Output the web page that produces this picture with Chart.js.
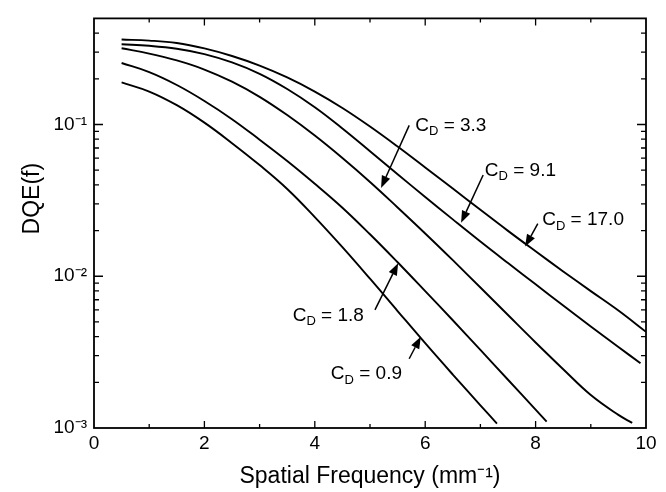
<!DOCTYPE html>
<html lang="en">
<head>
    <meta charset="UTF-8">
    <title>DQE(f) vs Spatial Frequency</title>
    <script src="https://cdn.jsdelivr.net/npm/chart.js"></script>
    <style>
        html, body { margin: 0; padding: 0; background: #fff; }
        canvas { display: block; }
    </style>
</head>
<body>
    <canvas id="grafico" width="666" height="492"></canvas>

    <script>
        // --- data ---
        const fA = [0.5, 1, 1.5, 2, 2.5, 3, 3.5, 4, 4.5, 5, 5.5, 6, 6.5, 7, 7.5, 8, 8.5, 9, 9.5, 10];
        const dqeA = [0.363, 0.357, 0.344, 0.317, 0.2825, 0.2443, 0.2042, 0.1648, 0.1285, 0.097, 0.0716, 0.0521, 0.0378, 0.0274, 0.0199, 0.0146, 0.01076, 0.00798, 0.00594, 0.0043]; // CD = 17.0

        const fB = [0.5, 1, 1.5, 2, 2.5, 3, 3.5, 4, 4.5, 5, 5.5, 6, 6.5, 7, 7.5, 8, 8.5, 9, 9.5, 9.9];
        const dqeB = [0.338, 0.330, 0.3155, 0.291, 0.2564, 0.2158, 0.1714, 0.130, 0.0942, 0.0667, 0.047, 0.0333, 0.0237, 0.01694, 0.01222, 0.00885, 0.00641, 0.00467, 0.00342, 0.00267]; // CD = 9.1

        const fC = [0.5, 1, 1.5, 2, 2.5, 3, 3.5, 4, 4.5, 5, 5.5, 6, 6.5, 7, 7.5, 8, 8.5, 9, 9.5, 9.75];
        const dqeC = [0.3177, 0.2931, 0.2642, 0.2301, 0.1914, 0.1521, 0.1153, 0.0845, 0.0601, 0.0418, 0.0284, 0.01914, 0.01276, 0.00843, 0.00555, 0.00366, 0.00244, 0.00165, 0.00122, 0.00108]; // CD = 3.3

        const fD = [0.5, 1, 1.5, 2, 2.5, 3, 3.5, 4, 4.5, 5, 5.5, 6, 6.5, 7, 7.5, 8, 8.2];
        const dqeD = [0.2541, 0.2213, 0.182, 0.1429, 0.1084, 0.0794, 0.0575, 0.0407, 0.0283, 0.0189, 0.01236, 0.00798, 0.00513, 0.00327, 0.00208, 0.00132, 0.0011]; // CD = 1.8

        const fE = [0.5, 1, 1.5, 2, 2.5, 3, 3.5, 4, 4.5, 5, 5.5, 6, 6.5, 7, 7.3];
        const dqeE = [0.1892, 0.1648, 0.134, 0.1028, 0.0753, 0.054, 0.0376, 0.02455, 0.01556, 0.00964, 0.0059, 0.00362, 0.00225, 0.00141, 0.00107]; // CD = 0.9

        const xTickValues = [0, 2, 4, 6, 8, 10];
        const yTickValues = [0.001, 0.01, 0.1];
        const yTickLabels = ['10\u207B\u00B3', '10\u207B\u00B2', '10\u207B\u00B9'];

        // labels "CD = ..." : text anchor, arrow tail, arrow tip (data units)
        const notes = [
            { cd: '3.3', tx: 5.82, ty: 0.0986, ax: 5.71, ay: 0.0986, hx: 5.20, hy: 0.0382 },
            { cd: '9.1', tx: 7.08, ty: 0.0499, ax: 7.05, ay: 0.0465, hx: 6.65, hy: 0.0225 },
            { cd: '17.0', tx: 8.12, ty: 0.0234, ax: 8.04, ay: 0.0222, hx: 7.81, hy: 0.0157 },
            { cd: '1.8', tx: 3.60, ty: 0.0055, ax: 5.09, ay: 0.0060, hx: 5.51, hy: 0.0122 },
            { cd: '0.9', tx: 4.29, ty: 0.00226, ax: 5.71, ay: 0.00286, hx: 5.92, hy: 0.0040 }
        ];

        const FONTE = "'Liberation Sans', Arial, Helvetica, sans-serif";
        const TINTA = '#000';

        function pontos(xs, ys) {
            return xs.map((v, i) => ({ x: v, y: ys[i] }));
        }

        function serie(xs, ys) {
            return {
                data: pontos(xs, ys),
                borderColor: TINTA,
                borderWidth: 1.9,
                pointRadius: 0,
                fill: false,
                tension: 0.4
            };
        }

        // frame, inward ticks, annotations and the y title
        const decoracao = {
            id: 'decoracao',
            afterDraw(chart) {
                const { ctx, chartArea: a, scales: { x, y } } = chart;
                ctx.save();
                ctx.strokeStyle = TINTA;
                ctx.fillStyle = TINTA;

                ctx.lineWidth = 1.8;
                ctx.strokeRect(a.left, a.top, a.right - a.left, a.bottom - a.top);

                ctx.lineWidth = 1.3;
                ctx.beginPath();
                for (let v = 1; v < 10; v++) {
                    const px = x.getPixelForValue(v);
                    const len = v % 2 ? 4 : 7;
                    ctx.moveTo(px, a.bottom); ctx.lineTo(px, a.bottom - len);
                    ctx.moveTo(px, a.top); ctx.lineTo(px, a.top + len);
                }
                for (let d = -3; d <= -1; d++) {
                    for (let m = 1; m <= 9; m++) {
                        const v = m * Math.pow(10, d);
                        if (v >= 0.5 || v <= 0.001) continue;
                        const py = y.getPixelForValue(v);
                        const len = m === 1 ? 9 : 5;
                        ctx.moveTo(a.left, py); ctx.lineTo(a.left + len, py);
                        ctx.moveTo(a.right, py); ctx.lineTo(a.right - len, py);
                    }
                }
                ctx.stroke();

                // annotations
                notes.forEach(n => {
                    const tx = x.getPixelForValue(n.tx), ty = y.getPixelForValue(n.ty);
                    const ax = x.getPixelForValue(n.ax), ay = y.getPixelForValue(n.ay);
                    const hx = x.getPixelForValue(n.hx), hy = y.getPixelForValue(n.hy);

                    ctx.textBaseline = 'middle';
                    ctx.textAlign = 'left';
                    ctx.font = '19px ' + FONTE;
                    ctx.fillText('C', tx, ty);
                    let cx = tx + ctx.measureText('C').width;
                    ctx.font = '13px ' + FONTE;
                    ctx.fillText('D', cx, ty + 6);
                    cx += ctx.measureText('D').width;
                    ctx.font = '19px ' + FONTE;
                    ctx.fillText(' = ' + n.cd, cx, ty);

                    const ang = Math.atan2(hy - ay, hx - ax);
                    const L = 12, W = 4.5;
                    const bx = hx - L * Math.cos(ang), by = hy - L * Math.sin(ang);
                    ctx.lineWidth = 1.5;
                    ctx.beginPath();
                    ctx.moveTo(ax, ay); ctx.lineTo(bx, by);
                    ctx.stroke();
                    ctx.beginPath();
                    ctx.moveTo(hx, hy);
                    ctx.lineTo(bx + W * Math.sin(ang), by - W * Math.cos(ang));
                    ctx.lineTo(bx - W * Math.sin(ang), by + W * Math.cos(ang));
                    ctx.closePath();
                    ctx.fill();
                });

                // y title
                ctx.translate(33, a.top + (a.bottom - a.top) * 0.44);
                ctx.rotate(-Math.PI / 2);
                ctx.textAlign = 'center';
                ctx.textBaseline = 'middle';
                ctx.font = '23px ' + FONTE;
                ctx.fillText('DQE(f)', 0, 0);
                ctx.restore();
            }
        };

        new Chart(document.getElementById('grafico'), {
            type: 'line',
            data: {
                datasets: [
                    serie(fA, dqeA),
                    serie(fB, dqeB),
                    serie(fC, dqeC),
                    serie(fD, dqeD),
                    serie(fE, dqeE)
                ]
            },
            options: {
                responsive: false,
                animation: false,
                layout: { padding: { top: 9, right: 20, left: 0, bottom: 0 } },
                plugins: {
                    legend: { display: false },
                    tooltip: { enabled: false }
                },
                scales: {
                    x: {
                        type: 'linear',
                        min: 0,
                        max: 10,
                        grid: { display: false, drawTicks: false },
                        border: { display: false },
                        ticks: {
                            stepSize: 1,
                            autoSkip: false,
                            maxRotation: 0,
                            padding: 4,
                            color: TINTA,
                            font: { family: FONTE, size: 19 },
                            callback: v => xTickValues.includes(v) ? String(v) : ''
                        },
                        title: {
                            display: true,
                            text: 'Spatial Frequency (mm\u207B\u00B9)',
                            color: TINTA,
                            font: { family: FONTE, size: 23 },
                            padding: { top: 0, bottom: 2 }
                        },
                        afterFit(s) { s.height = 64; }
                    },
                    y: {
                        type: 'logarithmic',
                        min: 0.001,
                        max: 0.5,
                        grid: { display: false, drawTicks: false },
                        border: { display: false },
                        ticks: {
                            autoSkip: false,
                            padding: 7,
                            color: TINTA,
                            font: { family: FONTE, size: 19 },
                            callback: v => {
                                const i = yTickValues.findIndex(t => Math.abs(t - v) < t * 1e-6);
                                return i >= 0 ? yTickLabels[i] : '';
                            }
                        },
                        afterFit(s) { s.width = 94; }
                    }
                }
            },
            plugins: [decoracao]
        });
    </script>
</body>
</html>
